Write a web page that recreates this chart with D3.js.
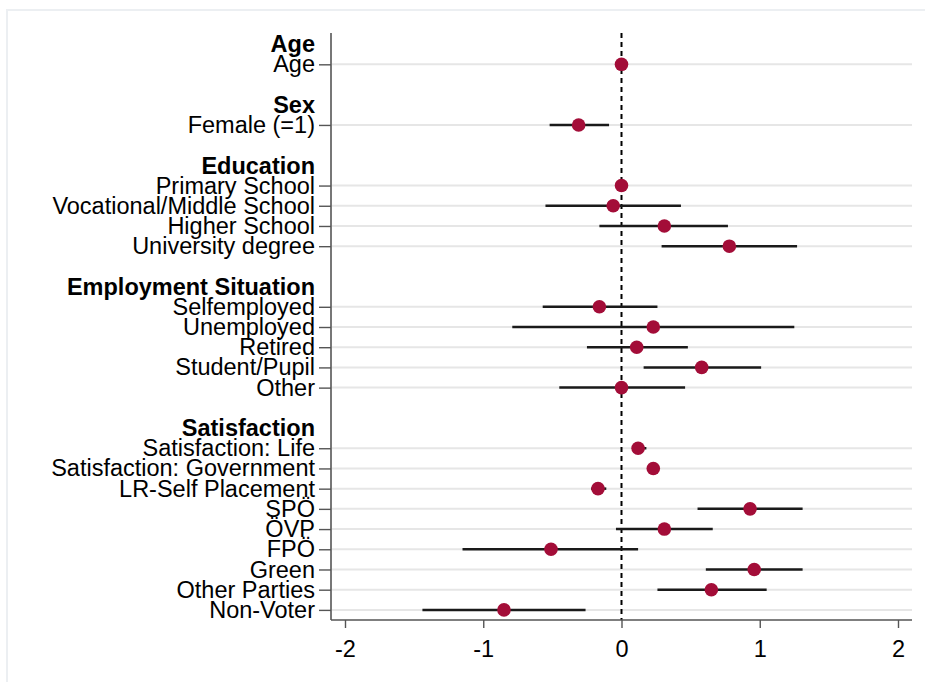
<!DOCTYPE html>
<html>
<head>
<meta charset="utf-8">
<script src="https://cdn.jsdelivr.net/npm/d3@7"></script>
<style>
  html, body { margin: 0; padding: 0; background: #fff; }
  svg { display: block; font-family: "Liberation Sans", Arial, sans-serif; }
</style>
</head>
<body>
<svg id="chart" width="925" height="682"></svg>
<script>
// ---- data ----
const groups = ["Age", "Sex", "Education", "Employment Situation", "Satisfaction"];
const labels = [
  "Age",
  "Female (=1)",
  "Primary School", "Vocational/Middle School", "Higher School", "University degree",
  "Selfemployed", "Unemployed", "Retired", "Student/Pupil", "Other",
  "Satisfaction: Life", "Satisfaction: Government", "LR-Self Placement",
  "SPÖ", "ÖVP", "FPÖ", "Green", "Other Parties", "Non-Voter"
];
const groupOf = [0, 1, 2, 2, 2, 2, 3, 3, 3, 3, 3, 4, 4, 4, 4, 4, 4, 4, 4, 4];
const coef   = [0.00, -0.31, 0.00, -0.06, 0.31, 0.78, -0.16, 0.23, 0.11, 0.58, 0.00,
                0.12, 0.23, -0.17, 0.93, 0.31, -0.51, 0.96, 0.65, -0.85];
const ciLow  = [-0.01, -0.52, 0.00, -0.55, -0.16, 0.29, -0.57, -0.79, -0.25, 0.16, -0.45,
                0.08, 0.20, -0.22, 0.55, -0.04, -1.15, 0.61, 0.26, -1.44];
const ciHigh = [0.01, -0.09, 0.00, 0.43, 0.77, 1.27, 0.26, 1.25, 0.48, 1.01, 0.46,
                0.18, 0.26, -0.11, 1.31, 0.66, 0.12, 1.31, 1.05, -0.26];
const xTicks = [-2, -1, 0, 1, 2];

// ---- build rows: header, items, blank between groups ----
const rows = [];
groups.forEach((g, gi) => {
  rows.push({ type: "header", label: g });
  labels.forEach((l, i) => {
    if (groupOf[i] === gi) rows.push({ type: "item", label: l, coef: coef[i], lo: ciLow[i], hi: ciHigh[i] });
  });
  if (gi < groups.length - 1) rows.push({ type: "blank" });
});
rows.forEach((r, i) => r.idx = i);
const nRows = rows.length;

// ---- layout ----
const svg = d3.select("#chart");
const pLeft = 331, pRight = 912, pTop = 33, pBottom = 620;
const fontSize = 23.5;

const x = d3.scaleLinear()
  .domain([-2 - (345 - pLeft) / 138.25, 2 + (pRight - 898) / 138.25])
  .range([pLeft, pRight]);
const y = d3.scaleLinear().domain([-0.55, nRows - 1 + 0.5]).range([pTop, pBottom]);

// frame border
svg.append("rect").attr("x", 7).attr("y", 10).attr("width", 940).attr("height", 700)
  .attr("fill", "none").attr("stroke", "#eceff2").attr("stroke-width", 2);

const items = rows.filter(r => r.type === "item");
const headers = rows.filter(r => r.type === "header");

// gridlines
svg.append("g").selectAll("line").data(items).join("line")
  .attr("x1", pLeft + 1).attr("x2", pRight)
  .attr("y1", d => y(d.idx)).attr("y2", d => y(d.idx))
  .attr("stroke", "#e6e6e6").attr("stroke-width", 2);

// zero reference line
svg.append("line")
  .attr("x1", x(0)).attr("x2", x(0)).attr("y1", pTop).attr("y2", pBottom)
  .attr("stroke", "#000").attr("stroke-width", 2).attr("stroke-dasharray", "5,4");

// CI lines
svg.append("g").selectAll("line").data(items.filter(d => d.hi > d.lo)).join("line")
  .attr("x1", d => x(d.lo)).attr("x2", d => x(d.hi))
  .attr("y1", d => y(d.idx)).attr("y2", d => y(d.idx))
  .attr("stroke", "#1a1a1a").attr("stroke-width", 2.5);

// points
svg.append("g").selectAll("circle").data(items).join("circle")
  .attr("cx", d => x(d.coef)).attr("cy", d => y(d.idx)).attr("r", 6.8)
  .attr("fill", "#a30d38");

// y axis
const yAxis = d3.axisLeft(y)
  .tickValues(items.map(d => d.idx))
  .tickFormat(i => rows[i].label)
  .tickSize(12).tickPadding(4).tickSizeOuter(0);
const gy = svg.append("g").attr("transform", `translate(${pLeft},0)`).call(yAxis);
gy.select(".domain").attr("stroke", "#555").attr("stroke-width", 1.6)
  .attr("d", `M0,${pTop}V${pBottom}`);
gy.selectAll(".tick line").attr("stroke", "#555").attr("stroke-width", 1.4);
gy.selectAll(".tick text").attr("font-size", fontSize).attr("fill", "#000")
  .attr("font-family", "'Liberation Sans', Arial, sans-serif");

// group headers
svg.append("g").selectAll("text").data(headers).join("text")
  .attr("x", pLeft - 16).attr("y", d => y(d.idx)).attr("dy", "0.35em")
  .attr("text-anchor", "end").attr("font-size", fontSize).attr("font-weight", "bold")
  .attr("fill", "#000").text(d => d.label);

// x axis
const xAxis = d3.axisBottom(x).tickValues(xTicks).tickFormat(d3.format("d"))
  .tickSize(8).tickPadding(12).tickSizeOuter(0);
const gx = svg.append("g").attr("transform", `translate(0,${pBottom})`).call(xAxis);
gx.select(".domain").attr("stroke", "#555").attr("stroke-width", 1.6)
  .attr("d", `M${pLeft},0H${pRight}`);
gx.selectAll(".tick line").attr("stroke", "#555").attr("stroke-width", 1.4);
gx.selectAll(".tick text").attr("font-size", fontSize).attr("fill", "#000")
  .attr("font-family", "'Liberation Sans', Arial, sans-serif")
  .text(d => d < 0 ? "-" + Math.abs(d) : String(d));
</script>
</body>
</html>
